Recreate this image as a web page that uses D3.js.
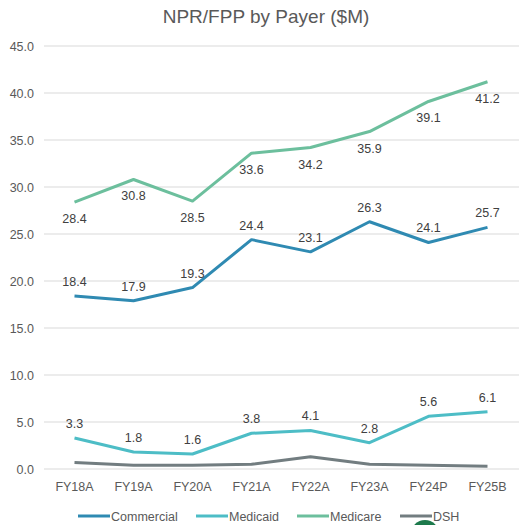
<!DOCTYPE html>
<html><head><meta charset="utf-8">
<script src="https://cdn.jsdelivr.net/npm/d3@7"></script>
<style>body{margin:0;background:#fff;} svg{display:block;}</style>
</head><body>
<svg id="c" width="519" height="525"></svg>
<script>
const categories = ["FY18A","FY19A","FY20A","FY21A","FY22A","FY23A","FY24P","FY25B"];
const commercial = [18.4,17.9,19.3,24.4,23.1,26.3,24.1,25.7];
const medicaid = [3.3,1.8,1.6,3.8,4.1,2.8,5.6,6.1];
const medicare = [28.4,30.8,28.5,33.6,34.2,35.9,39.1,41.2];
const dsh = [0.7,0.4,0.4,0.5,1.3,0.5,0.4,0.3];
const yTicks = [0,5,10,15,20,25,30,35,40,45];
const seriesNames = ["Commercial","Medicaid","Medicare","DSH"];

const series = [
  {name:"Commercial", values:commercial, color:"#2f8ab2", label:"above"},
  {name:"Medicaid", values:medicaid, color:"#4dbdc6", label:"above"},
  {name:"Medicare", values:medicare, color:"#6cbf9d", label:"below"},
  {name:"DSH", values:dsh, color:"#727d80", label:null}
];

const svg = d3.select("#c");
const font = "'Liberation Sans', Arial, sans-serif";
const textColor = "#595959";

const x = d3.scaleBand().domain(categories).range([45, 517]);
const y = d3.scaleLinear().domain([0,45]).range([469, 46]);

svg.append("text").attr("x", 266).attr("y", 23).attr("text-anchor","middle")
  .attr("font-family", font).attr("font-size", 19).attr("fill", textColor)
  .text("NPR/FPP by Payer ($M)");

// gridlines
svg.append("g").selectAll("line").data(yTicks).join("line")
  .attr("x1", 44).attr("x2", 519)
  .attr("y1", d=>y(d)).attr("y2", d=>y(d))
  .attr("stroke", "#d9d9d9").attr("stroke-width", 1);

// y axis labels
const yAxis = d3.axisLeft(y).tickValues(yTicks).tickFormat(d3.format(".1f")).tickSize(0).tickPadding(0);
const yg = svg.append("g").attr("transform","translate(34,0)").call(yAxis);
yg.select(".domain").remove();
yg.selectAll("text").attr("font-family", font).attr("font-size", 12.5).attr("fill", textColor);

// x axis labels
const xAxis = d3.axisBottom(x).tickSize(0).tickPadding(0);
const xg = svg.append("g").attr("transform","translate(0,482)").call(xAxis);
xg.select(".domain").remove();
xg.selectAll("text").attr("font-family", font).attr("font-size", 12.5).attr("fill", textColor);

const line = d3.line().x((d,i)=>x(categories[i]) + x.bandwidth()/2).y(d=>y(d));

series.slice().reverse().forEach(s=>{
  svg.append("path").datum(s.values).attr("d", line)
    .attr("fill","none").attr("stroke", s.color).attr("stroke-width", 3)
    .attr("stroke-linejoin","round");
});

series.forEach(s=>{
  if(!s.label) return;
  svg.append("g").selectAll("text").data(s.values).join("text")
    .attr("x", (d,i)=>x(categories[i]) + x.bandwidth()/2)
    .attr("y", d=> s.label==="above" ? y(d) - 10 : y(d) + 21)
    .attr("text-anchor","middle")
    .attr("font-family", font).attr("font-size", 12.5).attr("fill", "#404040")
    .text(d=>d3.format(".1f")(d));
});

// legend
const legendX = [78, 196, 297, 400];
const lg = svg.append("g");
series.forEach((s,i)=>{
  lg.append("line").attr("x1", legendX[i]).attr("x2", legendX[i]+32)
    .attr("y1", 516).attr("y2", 516).attr("stroke", s.color).attr("stroke-width", 3);
  lg.append("text").attr("x", legendX[i]+33).attr("y", 520.5)
    .attr("font-family", font).attr("font-size", 12.5).attr("fill", textColor)
    .text(seriesNames[i]);
});

// decorative circle partially visible at bottom
svg.append("circle").attr("cx", 425).attr("cy", 534).attr("r", 14).attr("fill", "#1d7a4c");
</script>
</body></html>
